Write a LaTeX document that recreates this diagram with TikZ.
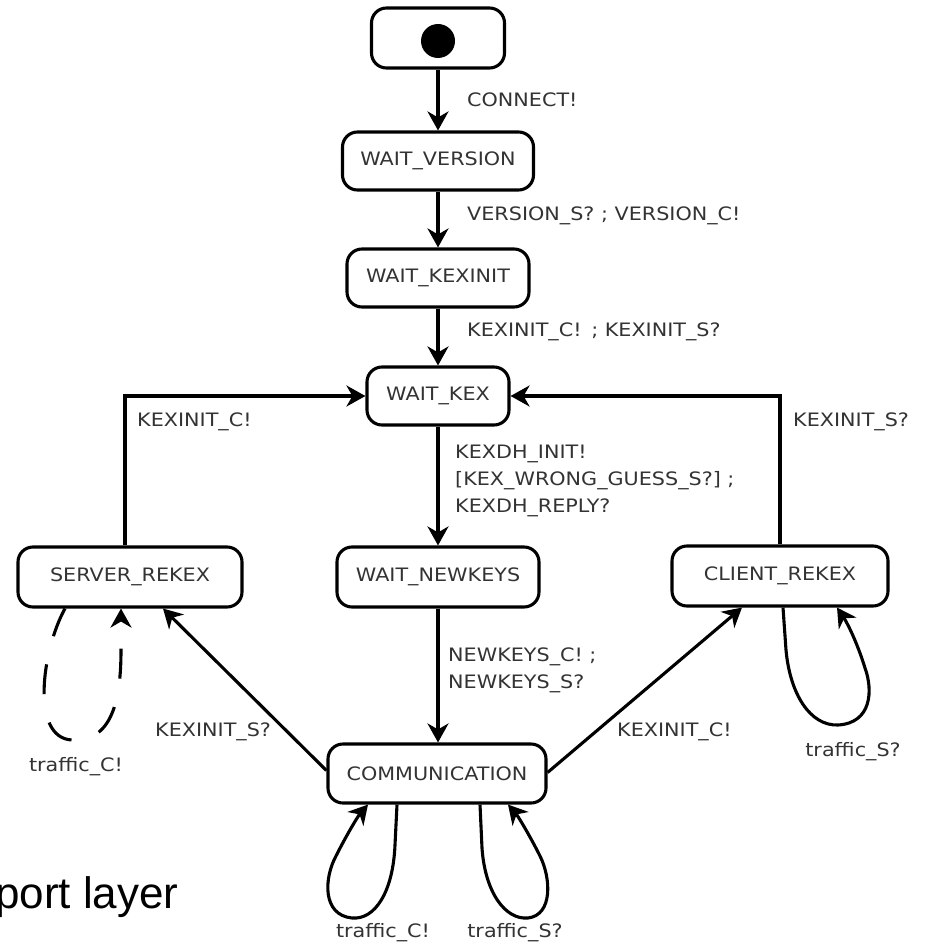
\documentclass[tikz,border=0pt]{standalone}
\usepackage{fontspec}
\usetikzlibrary{arrows.meta}
\newfontfamily\labfont[FakeStretch=1.12]{DejaVu Sans}
\newfontfamily\bigfont{Liberation Sans}
\begin{document}
\begin{tikzpicture}[x=1pt,y=-1pt,
  >={Stealth[length=19pt,width=21pt,inset=6pt]},
  state/.style={draw, line width=3.1pt, rounded corners=15pt, inner sep=0pt,
    minimum height=58pt, font=\labfont\fontsize{18.5}{22}\selectfont, text=black!80},
  lbl/.style={inner sep=0pt, align=left, anchor=west,
    font=\labfont\fontsize{18.5}{27}\selectfont, text=black!80},
  link/.style={->, line width=3.1pt},
  selfloop/.style={->, line width=3.1pt, line join=round}]

\useasboundingbox (0,0) rectangle (924,944);
\clip (0,0) rectangle (924,944);

% states
\node[state, minimum width=133pt, minimum height=60pt] (init) at (438,38) {};
\node[circle, fill=black, minimum size=34pt, inner sep=0pt] (dot) at (438,41) {};
\node[state, minimum width=191pt] (wv)   at (438,161) {WAIT\_VERSION};
\node[state, minimum width=182pt] (wki)  at (438,278) {WAIT\_KEXINIT};
\node[state, minimum width=142pt] (wkex) at (438,396) {WAIT\_KEX};
\node[state, minimum width=224pt, minimum height=60pt] (srv) at (130,577) {SERVER\_REKEX};
\node[state, minimum width=202pt, minimum height=60pt] (wn)  at (438,577) {WAIT\_NEWKEYS};
\node[state, minimum width=216pt, minimum height=60pt] (cl)  at (780,576) {CLIENT\_REKEX};
\node[state, minimum width=218pt, minimum height=59pt] (comm) at (437,773.5) {COMMUNICATION};

% main sequence
\draw[link] (init) -- (wv);
\draw[link] (wv) -- (wki);
\draw[link] (wki) -- (wkex);
\draw[link] (wkex) -- (wn);
\draw[link] (wn) -- ([xshift=1pt]comm.north);

\node[lbl] (l1) at (467,100) {CONNECT!};
\node[lbl] (l2) at (467,216) {VERSION\_S? ; VERSION\_C!};
\node[lbl] (l3) at (467,332) {KEXINIT\_C!\, ; KEXINIT\_S?};
\node[lbl] (l4) at (455,481) {KEXDH\_INIT!\\{[}KEX\_WRONG\_GUESS\_S?{]} ;\\KEXDH\_REPLY?};
\node[lbl] (l5) at (448,670) {NEWKEYS\_C! ;\\NEWKEYS\_S?};

% rekey returns
\draw[link] ([xshift=-5pt]srv.north) |- (wkex.west);
\draw[link] (cl.north) |- (wkex.east);
\node[lbl] (l6) at (137,422) {KEXINIT\_C!};
\node[lbl] (l7) at (793,422) {KEXINIT\_S?};

% rekey starts
\draw[link] ([yshift=3pt]comm.west) -- ([xshift=33pt]srv.south);
\draw[link] ([yshift=1pt]comm.east) -- ([xshift=-38pt]cl.south);
\node[lbl] (l8) at (155,732) {KEXINIT\_S?};
\node[lbl] (l9) at (617,732) {KEXINIT\_C!};

% self loops
\draw[selfloop, dash pattern=on 30pt off 29pt]
  ([xshift=-65pt]srv.south) .. controls (42,650) and (30,738) .. (72,740)
  .. controls (112,742) and (121,700) .. (121,650) -- ([xshift=-9pt]srv.south);
\node[lbl, anchor=center] (l10) at (76,767) {traffic\_C!};

\draw[selfloop]
  ([xshift=-40pt]comm.south) -- (395,845) .. controls (393,892) and (375,920) .. (352,918)
  .. controls (322,915) and (324,878) .. (336,856) .. controls (346,836) and (358,816) .. ([xshift=-69pt]comm.south);
\draw[selfloop]
  ([xshift=43pt]comm.south) -- (482,848) .. controls (485,892) and (505,920) .. (528,918)
  .. controls (553,915) and (551,878) .. (540,856) .. controls (530,836) and (518,816) .. ([xshift=71pt]comm.south);
\node[lbl, anchor=center] (l11) at (383,933) {traffic\_C!};
\node[lbl, anchor=center] (l12) at (515,933) {traffic\_S?};

\draw[selfloop]
  ([xshift=3pt]cl.south) -- (786,650) .. controls (790,694) and (810,726) .. (838,725)
  .. controls (872,723) and (873,690) .. (865,668) .. controls (858,645) and (848,624) .. ([xshift=57pt]cl.south);
\node[lbl, anchor=center] (l13) at (853,752) {traffic\_S?};

% caption fragment at the lower left
\node[anchor=base west, inner sep=0pt, font=\bigfont\fontsize{44}{44}\selectfont] (cap) at (-5,908) {port layer};
\end{tikzpicture}
\end{document}
